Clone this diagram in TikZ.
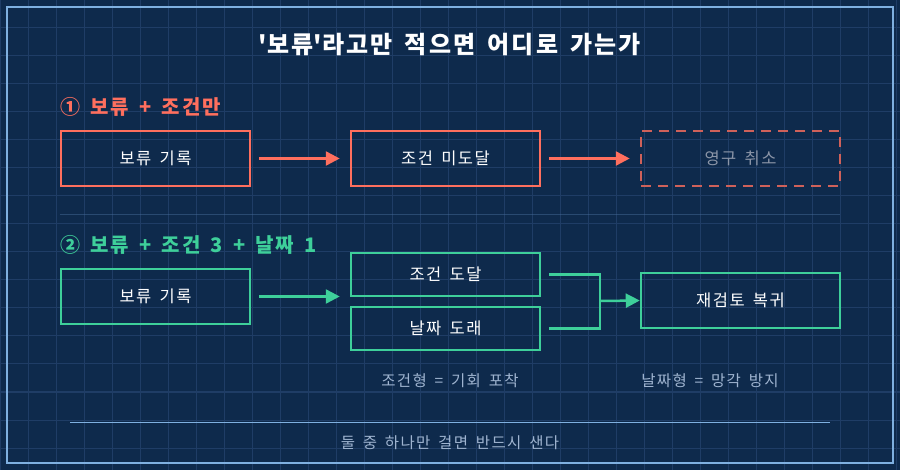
\documentclass[tikz,border=0pt]{standalone}
\usepackage{fontspec}
\setmainfont[LetterSpace=9,WordSpace=1.6]{Noto Sans CJK KR}
\usetikzlibrary{arrows.meta}
\definecolor{bg}{HTML}{0E2A4C}
\definecolor{gridc}{HTML}{1F3D66}
\definecolor{frame}{HTML}{7FB0E0}
\definecolor{coral}{HTML}{FF6F5E}
\definecolor{mint}{HTML}{3ECF9A}
\definecolor{capc}{HTML}{9FB4D0}
\definecolor{dim}{HTML}{8C96A8}
\begin{document}
\begin{tikzpicture}[x=1pt,y=-1pt,
  box/.style={draw,line width=2.5pt,minimum width=#1,minimum height=55pt,inner sep=0pt,text=white,font=\fontsize{16.5}{20}\selectfont},
  box/.default=189pt,
  arr/.style={line width=2.5pt,-{Triangle[length=14pt,width=14pt]}},
  captxt/.style={text=capc,font=\fontsize{15.5}{18}\selectfont},
  sec/.style={font=\bfseries\fontsize{20}{24}\selectfont,anchor=west}]
\fill[bg] (0,0) rectangle (900,470);
\useasboundingbox (0,0) rectangle (900,470);
\foreach \i in {0,28,...,900} \draw[gridc,line width=1pt] (\i,0) -- (\i,470);
\foreach \j in {0,28,...,470} \draw[gridc,line width=1pt] (0,\j) -- (900,\j);
\draw[frame,line width=2pt] (7,7) rectangle (893,463);
\node[text=white,font=\bfseries\fontsize{24}{28}\selectfont] (title) at (450,45) {\textquotesingle 보류\textquotesingle 라고만 적으면 어디로 가는가};
% section 1
\node[sec,text=coral] (s1) at (57,107) {① 보류 + 조건만};
\node[box,draw=coral] (a1) at (155.5,158.5) {보류 기록};
\node[box,draw=coral] (a2) at (445.5,158.5) {조건 미도달};
\node[box=199pt,draw=coral!80!bg,dashed,dash pattern=on 10pt off 7pt,text=dim] (a3) at (740.5,158.5) {영구 취소};
\draw[arr,coral] ([xshift=8pt]a1.east) -- ([xshift=-10pt]a2.west);
\draw[arr,coral] ([xshift=8pt]a2.east) -- ([xshift=-10pt]a3.west);
\draw[gridc!60!frame,line width=0.8pt,opacity=0.5] (60,214) -- (840,214);
% section 2
\node[sec,text=mint] (s2) at (57,245) {② 보류 + 조건 3 + 날짜 1};
\node[box,draw=mint] (b1) at (155.5,296.5) {보류 기록};
\node[box,draw=mint,minimum height=43pt] (b2) at (445.5,274.5) {조건 도달};
\node[box,draw=mint,minimum height=43pt] (b3) at (445.5,328.5) {날짜 도래};
\node[box=199pt,draw=mint] (b4) at (740.5,300.5) {재검토 복귀};
\draw[arr,mint] ([xshift=8pt]b1.east) -- ([xshift=-10pt]b1.east-|b2.west);
\coordinate (j) at (600,301);
\draw[mint,line width=2.5pt] ([xshift=8pt]b2.east) -| (j) |- ([xshift=8pt]b3.east);
\draw[arr,mint] (j) -- (b4.west);
\node[captxt] (c1) at (450,381) {조건형 = 기회 포착};
\node[captxt] (c2) at (710,381) {날짜형 = 망각 방지};
\draw[frame,line width=1pt] (70,422) -- (830,422);
\node[captxt] (f) at (450,443) {둘 중 하나만 걸면 반드시 샌다};
\end{tikzpicture}
\end{document}
